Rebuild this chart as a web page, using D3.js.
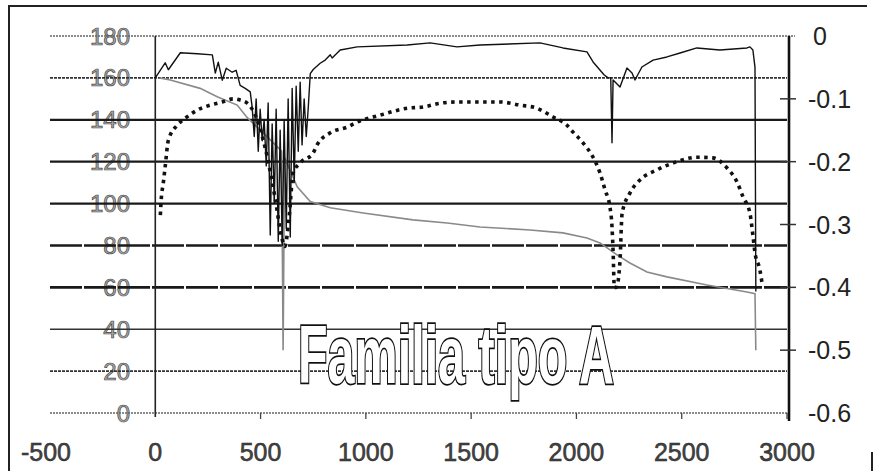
<!DOCTYPE html>
<html>
<head>
<meta charset="utf-8">
<script src="https://cdn.jsdelivr.net/npm/d3@7"></script>
<style>
  html, body { margin: 0; padding: 0; background: #fff; }
  svg { display: block; }
  text { font-family: "Liberation Sans", Arial, sans-serif; }
</style>
</head>
<body>
<svg id="chart" width="874" height="471"></svg>
<script>
// Axis ticks
const xTicks = [-500, 0, 500, 1000, 1500, 2000, 2500, 3000];
const leftTicks = [0, 20, 40, 60, 80, 100, 120, 140, 160, 180];
const rightTicks = [0, -0.1, -0.2, -0.3, -0.4, -0.5, -0.6];
const rightLabels = ["0", "-0.1", "-0.2", "-0.3", "-0.4", "-0.5", "-0.6"];
const title = "Familia tipo A";

// Solid trace (left axis): [x, value]
const solidSeries = [
  [0, 160], [47, 167.2], [62, 163.9], [119, 172], [200, 171.5], [271, 171],
  [285, 162.3], [299, 167.5], [318, 158.9], [337, 164.6], [365, 162.7],
  [384, 163.6], [403, 156.4], [427, 155], [451, 153.3],
  [460, 146], [470, 132], [479, 150], [489, 125], [498, 145], [508, 130],
  [517, 140], [527, 118], [536, 148], [546, 85], [555, 138], [565, 100],
  [574, 145], [584, 82], [593, 135], [603, 80], [612, 140], [622, 88],
  [631, 150], [641, 84], [650, 155], [660, 110], [669, 156], [679, 125],
  [688, 158], [697, 128], [707, 150], [717, 132], [726, 145], [736, 162],
  [750, 164], [783, 167], [807, 168.5], [831, 171], [840, 169.5],
  [878, 173.3], [959, 174.8], [1196, 175.7], [1305, 176.7], [1433, 174.8],
  [1542, 175.7], [1827, 176.7], [1936, 174.3], [2050, 172.4], [2079, 167.6],
  [2131, 161.5], [2150, 160], [2163, 160], [2169, 129], [2174, 159],
  [2207, 155.7], [2240, 164.7], [2264, 162.3], [2278, 159], [2311, 165.2],
  [2364, 168.5], [2430, 170], [2492, 171.9], [2572, 174.3], [2681, 173.3],
  [2810, 174.3], [2824, 174.8], [2838, 173.3], [2848, 165], [2852, 58]
];

// Grey trace (left axis): [x, value]
const graySeries = [
  [20, 160], [71, 159], [213, 155], [294, 151], [389, 147], [437, 141],
  [520, 133], [600, 125], [607, 30], [614, 122], [674, 108], [736, 101],
  [831, 98], [987, 95.5], [1224, 92.2], [1386, 90.7], [1542, 88.8],
  [1780, 87.4], [1936, 86], [2050, 83.6], [2112, 81.2], [2193, 75.5],
  [2254, 71.6], [2335, 67.3], [2430, 65], [2620, 61.1], [2810, 57.8],
  [2848, 57], [2852, 30]
];

// Dotted trace (right axis): [x, value]
const dottedSeries = [
  [24, -0.285], [28, -0.261], [38, -0.234], [47, -0.208], [62, -0.166],
  [104, -0.142], [142, -0.131], [199, -0.118], [261, -0.110], [318, -0.105],
  [370, -0.100], [403, -0.102], [437, -0.107], [480, -0.13], [530, -0.19],
  [570, -0.26], [600, -0.32], [615, -0.335], [635, -0.29], [655, -0.218],
  [688, -0.202], [750, -0.186], [769, -0.173], [831, -0.154], [911, -0.145],
  [959, -0.137], [1068, -0.126], [1196, -0.115], [1272, -0.113],
  [1353, -0.107], [1433, -0.105], [1542, -0.105], [1637, -0.105],
  [1732, -0.110], [1813, -0.115], [1889, -0.129], [1955, -0.142],
  [1984, -0.153], [2031, -0.170], [2079, -0.193], [2112, -0.218],
  [2136, -0.245], [2159, -0.272], [2169, -0.304], [2174, -0.341],
  [2180, -0.400], [2190, -0.400], [2207, -0.357], [2217, -0.282],
  [2254, -0.250], [2302, -0.229], [2383, -0.213], [2477, -0.200],
  [2572, -0.193], [2648, -0.194], [2715, -0.210], [2762, -0.232],
  [2791, -0.256], [2824, -0.282], [2838, -0.317], [2848, -0.345],
  [2871, -0.372], [2881, -0.392]
];

const svg = d3.select("#chart");

const x = d3.scaleLinear().domain([-500, 3000]).range([50, 787]);
const yL = d3.scaleLinear().domain([0, 180]).range([413, 36]);
const yR = d3.scaleLinear().domain([-0.6, 0]).range([413, 36]);

// Frame
svg.append("line").attr("x1", 9).attr("x2", 9).attr("y1", 6).attr("y2", 471)
  .attr("stroke", "#222").attr("stroke-width", 2);
svg.append("line").attr("x1", 8).attr("x2", 867).attr("y1", 6).attr("y2", 6)
  .attr("stroke", "#222").attr("stroke-width", 2);
svg.append("line").attr("x1", 872).attr("x2", 872).attr("y1", 452).attr("y2", 471)
  .attr("stroke", "#222").attr("stroke-width", 2);

// Left tick labels (sit under the gridlines)
svg.append("g").selectAll("text").data(leftTicks).join("text")
  .attr("x", 130).attr("y", d => yL(d) + 8.5)
  .attr("text-anchor", "end")
  .attr("font-size", 24)
  .attr("fill", "#aaa").attr("stroke", "#444").attr("stroke-width", 0.7)
  .text(d => d);

// Horizontal gridlines
function gridStyle(v) {
  if (v === 180 || v === 0) return { c: "#666", w: 1.6, d: "2 1" };
  if (v === 160 || v === 20) return { c: "#333", w: 1.8, d: "3 1" };
  if (v === 80 || v === 60) return { c: "#1a1a1a", w: 2.6, d: "32 2" };
  if (v === 40) return { c: "#333", w: 1.6, d: null };
  return { c: "#1a1a1a", w: 2.2, d: null };
}
svg.append("g").selectAll("line").data(leftTicks).join("line")
  .attr("x1", x(-500)).attr("x2", d => (d === 180 ? x(3000) + 8 : x(3000)))
  .attr("y1", d => yL(d)).attr("y2", d => yL(d))
  .each(function (d) {
    const s = gridStyle(d);
    d3.select(this).attr("stroke", s.c).attr("stroke-width", s.w)
      .attr("stroke-dasharray", s.d);
  });

// Bottom axis ticks
svg.append("g").selectAll("line").data(xTicks.filter(d => d > 0)).join("line")
  .attr("x1", d => x(d)).attr("x2", d => x(d))
  .attr("y1", yL(0)).attr("y2", yL(0) + 6)
  .attr("stroke", "#444").attr("stroke-width", 1.3);

// Left vertical axis at x = 0
svg.append("line").attr("x1", x(0)).attr("x2", x(0))
  .attr("y1", yL(180)).attr("y2", yL(0) + 4)
  .attr("stroke", "#222").attr("stroke-width", 1.6);

// Right axis
svg.append("line").attr("x1", x(3000) + 2).attr("x2", x(3000) + 2)
  .attr("y1", yR(0)).attr("y2", yR(-0.6) + 8)
  .attr("stroke", "#111").attr("stroke-width", 2.6);
svg.append("g").selectAll("line").data(rightTicks.filter(d => d < 0 && d > -0.6)).join("line")
  .attr("x1", x(3000) - 7).attr("x2", x(3000) + 9)
  .attr("y1", d => yR(d)).attr("y2", d => yR(d))
  .attr("stroke", "#333").attr("stroke-width", 1.5);

// Grey trace
const lineL = d3.line().x(d => x(d[0])).y(d => yL(d[1]));
svg.append("path").datum(graySeries)
  .attr("d", lineL).attr("fill", "none")
  .attr("stroke", "#8a8a8a").attr("stroke-width", 1.6);

// Dotted trace
const lineR = d3.line().x(d => x(d[0])).y(d => yR(d[1])).curve(d3.curveMonotoneX);
svg.append("path").datum(dottedSeries)
  .attr("d", lineR).attr("fill", "none")
  .attr("stroke", "#111").attr("stroke-width", 3.6)
  .attr("stroke-dasharray", "3.5 4.5");

// Solid trace
svg.append("path").datum(solidSeries)
  .attr("d", lineL).attr("fill", "none")
  .attr("stroke", "#111").attr("stroke-width", 1.4)
  .attr("stroke-linejoin", "round");

// Bottom tick labels
svg.append("g").selectAll("text").data(xTicks).join("text")
  .attr("x", d => x(d) - (d < 0 ? 4 : 0)).attr("y", 461)
  .attr("text-anchor", "middle")
  .attr("font-size", 25)
  .attr("fill", "#444").attr("stroke", "#222").attr("stroke-width", 0.5)
  .text(d => d);

// Right tick labels
svg.append("g").selectAll("text").data(rightTicks).join("text")
  .attr("x", d => (d === 0 ? 813 : 808))
  .attr("y", d => yR(d) + 9)
  .attr("font-size", 25)
  .attr("fill", "#222")
  .text((d, i) => rightLabels[i]);

// Title inside the plot: tall, condensed outlined lettering
svg.append("text")
  .attr("transform", "translate(298,383) scale(1,1.7)")
  .attr("x", 0).attr("y", 0)
  .attr("font-size", 48.5).attr("font-weight", "bold")
  .attr("fill", "#fff").attr("stroke", "#111").attr("stroke-width", 2.8)
  .attr("vector-effect", "non-scaling-stroke")
  .attr("paint-order", "stroke")
  .text(title);
</script>
</body>
</html>
